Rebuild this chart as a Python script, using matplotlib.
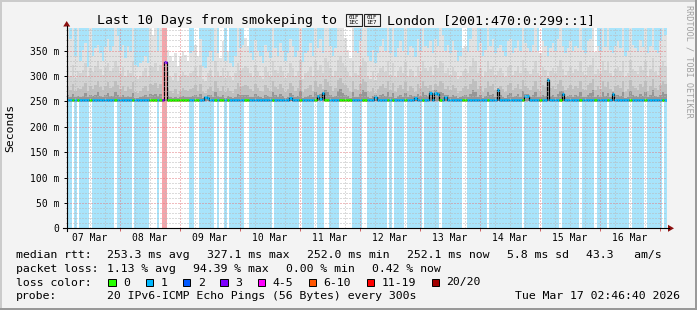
import matplotlib
matplotlib.use("Agg")
import matplotlib.pyplot as plt
from matplotlib.patches import Rectangle, Polygon
from matplotlib.lines import Line2D
import numpy as np
from datetime import datetime, timedelta

plt.rcParams["font.family"] = ["DejaVu Sans Mono"]

# ---- data (one value per hour, 10 rows = 10 days) ----
START = datetime(2026, 3, 7, 2, 46, 40)
N_DAYS = 10

# loss per hour: '0' none, '1' = 1/20 lost, 'r' = 11-19 lost
loss_rows = [
    "110101111011111111101111",
    "11011111100010rr00000000",
    "011001111110100101111110",
    "011111111101111111111011",
    "111011100111100000111100",
    "111111110101111011111101",
    "111110111111110011111111",
    "011111111111110111111011",
    "111110111111101111101111",
    "011111111011111011111101",
]

median_rows = [
    [253.4, 253.1, 253.0, 253.3, 253.2, 253.5, 253.1, 253.0, 253.2, 253.4, 253.1, 253.3, 253.6, 253.2, 253.0, 253.1, 253.4, 253.2, 253.3, 253.5, 253.2, 253.1, 253.3, 253.0],
    [253.2, 253.3, 253.1, 253.0, 253.4, 253.2, 253.1, 253.3, 253.5, 253.2, 253.0, 253.1, 253.3, 253.2, 253.4, 327.1, 253.2, 253.0, 253.1, 253.3, 253.2, 253.1, 253.0, 253.2],
    [253.1, 253.3, 253.2, 253.0, 253.1, 253.4, 253.2, 258.5, 257.0, 253.3, 253.1, 253.0, 253.2, 253.4, 253.1, 253.2, 253.0, 253.3, 253.1, 253.2, 253.4, 253.0, 253.1, 253.3],
    [253.2, 253.0, 253.1, 253.3, 253.2, 253.4, 253.1, 253.0, 253.2, 253.3, 253.1, 253.2, 253.0, 253.4, 253.2, 253.1, 253.3, 256.0, 253.2, 253.0, 253.1, 253.3, 253.2, 253.1],
    [253.3, 253.1, 253.2, 253.0, 260.0, 254.5, 266.5, 253.2, 253.1, 253.3, 253.0, 253.2, 253.4, 253.1, 253.0, 253.2, 253.3, 253.1, 253.2, 253.0, 253.4, 253.1, 253.2, 253.3],
    [253.1, 253.2, 253.0, 258.5, 253.3, 253.1, 253.2, 253.4, 253.0, 253.1, 253.3, 253.2, 253.1, 253.0, 253.2, 253.4, 253.1, 253.3, 253.2, 257.0, 253.1, 253.0, 253.2, 253.3],
    [253.2, 266.0, 253.4, 267.0, 264.0, 253.1, 253.3, 258.0, 253.2, 253.0, 253.1, 253.3, 253.2, 253.4, 253.1, 253.0, 253.2, 253.3, 253.1, 253.2, 253.0, 253.4, 253.2, 253.1],
    [253.3, 253.1, 253.0, 253.2, 272.0, 253.1, 253.3, 253.2, 253.0, 253.1, 253.4, 253.2, 253.1, 253.3, 253.0, 260.5, 260.0, 253.2, 253.1, 253.3, 253.0, 253.2, 253.1, 253.4],
    [291.6, 253.2, 253.1, 253.3, 253.0, 253.2, 265.0, 253.1, 253.3, 253.2, 253.0, 253.1, 253.4, 253.2, 253.1, 253.0, 253.3, 253.2, 253.1, 253.0, 253.2, 253.3, 253.1, 253.2],
    [253.0, 253.2, 264.0, 253.1, 253.3, 253.2, 253.0, 253.1, 253.4, 253.2, 253.1, 253.0, 253.3, 253.2, 253.1, 253.0, 253.2, 253.1, 253.3, 253.0, 253.2, 253.1, 252.4, 252.1],
]

# smoke: max ping per hour
top_rows = [
    [396, 372, 396, 340, 396, 330, 352, 365, 318, 396, 340, 355, 362, 345, 330, 358, 372, 350, 360, 396, 378, 350, 362, 335],
    [360, 348, 396, 322, 318, 325, 330, 340, 326, 396, 380, 396, 350, 396, 254, 254, 352, 340, 330, 345, 320, 338, 350, 342],
    [330, 345, 350, 362, 340, 372, 320, 315, 338, 350, 330, 396, 345, 335, 368, 330, 350, 326, 318, 340, 396, 356, 362, 375],
    [360, 345, 332, 370, 350, 340, 325, 362, 348, 335, 396, 355, 340, 365, 350, 330, 345, 372, 360, 338, 350, 396, 328, 345],
    [350, 365, 340, 396, 355, 372, 345, 396, 396, 360, 340, 355, 396, 396, 396, 375, 352, 335, 396, 350, 345, 368, 396, 396],
    [340, 330, 352, 326, 345, 360, 372, 350, 396, 345, 396, 338, 355, 368, 350, 396, 342, 360, 355, 338, 372, 350, 396, 360],
    [355, 368, 345, 372, 360, 396, 380, 350, 362, 345, 368, 352, 330, 340, 355, 360, 348, 372, 396, 396, 350, 365, 340, 352],
    [396, 360, 372, 345, 355, 362, 350, 340, 368, 372, 345, 356, 370, 350, 396, 365, 355, 348, 362, 396, 350, 345, 368, 360],
    [340, 355, 365, 350, 372, 396, 360, 345, 355, 368, 350, 360, 355, 396, 352, 345, 368, 372, 396, 348, 360, 350, 396, 358],
    [396, 352, 345, 360, 368, 355, 396, 340, 350, 396, 362, 356, 348, 370, 358, 396, 345, 360, 396, 352, 345, 368, 396, 380],
]

# smoke: upper quantile band
hi_rows = [
    [318, 300, 322, 296, 310, 305, 312, 325, 300, 316, 308, 320, 330, 314, 302, 318, 326, 310, 315, 330, 320, 305, 318, 300],
    [312, 305, 330, 298, 295, 300, 308, 315, 300, 320, 318, 325, 310, 322, 254, 254, 310, 298, 292, 305, 290, 300, 308, 302],
    [298, 305, 310, 318, 300, 322, 295, 290, 305, 312, 298, 330, 308, 300, 315, 296, 310, 298, 292, 305, 325, 312, 316, 320],
    [315, 305, 298, 322, 310, 300, 295, 318, 308, 300, 330, 312, 305, 320, 310, 296, 305, 325, 315, 300, 310, 332, 295, 305],
    [308, 318, 300, 330, 312, 322, 305, 335, 328, 315, 300, 310, 332, 340, 325, 318, 308, 298, 330, 305, 302, 320, 335, 328],
    [300, 295, 310, 292, 305, 315, 320, 308, 330, 302, 325, 298, 310, 318, 306, 328, 300, 314, 310, 298, 320, 308, 330, 315],
    [310, 318, 302, 322, 315, 330, 325, 306, 316, 302, 318, 308, 295, 300, 310, 314, 305, 320, 335, 330, 306, 316, 298, 308],
    [330, 314, 320, 302, 310, 316, 306, 298, 318, 322, 302, 310, 320, 306, 332, 316, 310, 304, 314, 330, 306, 300, 318, 312],
    [300, 310, 316, 306, 320, 332, 314, 302, 310, 318, 306, 314, 310, 330, 308, 302, 318, 322, 335, 304, 314, 306, 330, 312],
    [328, 306, 300, 314, 318, 310, 330, 298, 306, 332, 314, 310, 304, 320, 312, 330, 300, 314, 335, 308, 302, 318, 330, 320],
]

# smoke: middle band
mid_rows = [
    [280, 272, 284, 270, 276, 274, 278, 286, 270, 280, 275, 282, 290, 278, 272, 280, 288, 276, 279, 290, 282, 274, 280, 270],
    [278, 274, 288, 268, 266, 270, 276, 280, 270, 284, 282, 286, 276, 284, 254, 254, 276, 270, 266, 274, 264, 270, 276, 272],
    [270, 274, 276, 282, 270, 284, 268, 266, 274, 278, 270, 290, 276, 270, 280, 268, 276, 270, 266, 274, 286, 278, 280, 282],
    [280, 274, 270, 284, 276, 270, 268, 282, 276, 270, 290, 278, 274, 284, 276, 268, 274, 286, 280, 270, 276, 292, 268, 274],
    [276, 282, 270, 290, 278, 284, 274, 294, 288, 280, 270, 276, 292, 296, 286, 282, 276, 268, 290, 274, 272, 284, 294, 288],
    [270, 268, 276, 266, 274, 280, 284, 276, 290, 272, 286, 268, 276, 282, 274, 288, 270, 280, 276, 268, 284, 276, 290, 280],
    [276, 282, 272, 284, 280, 290, 286, 274, 280, 272, 282, 276, 266, 270, 276, 280, 274, 284, 294, 290, 274, 280, 268, 276],
    [290, 280, 284, 272, 276, 280, 274, 268, 282, 286, 272, 276, 284, 274, 292, 280, 276, 272, 280, 290, 274, 270, 282, 278],
    [270, 276, 280, 274, 284, 292, 280, 272, 276, 282, 274, 280, 276, 290, 274, 272, 282, 286, 294, 272, 280, 274, 290, 278],
    [288, 274, 270, 280, 282, 276, 290, 268, 274, 292, 280, 276, 272, 284, 278, 290, 270, 280, 294, 276, 272, 282, 290, 284],
]

# smoke: dense core just above the median
lo_rows = [
    [262, 258, 264, 258, 260, 259, 261, 266, 258, 262, 260, 263, 268, 261, 258, 262, 266, 260, 261, 268, 263, 259, 262, 258],
    [261, 259, 266, 257, 256, 258, 260, 262, 258, 264, 263, 265, 260, 264, 254, 254, 260, 258, 256, 259, 256, 258, 260, 259],
    [258, 259, 260, 263, 258, 264, 257, 256, 262, 262, 258, 268, 260, 258, 262, 257, 260, 258, 256, 259, 265, 262, 262, 263],
    [262, 259, 258, 264, 260, 258, 257, 263, 260, 258, 268, 262, 259, 264, 260, 257, 259, 266, 262, 258, 260, 270, 257, 259],
    [260, 263, 258, 268, 262, 264, 268, 272, 268, 262, 258, 260, 270, 274, 266, 263, 260, 257, 268, 259, 258, 264, 272, 268],
    [258, 257, 260, 262, 259, 262, 264, 260, 268, 258, 266, 257, 260, 263, 259, 266, 258, 262, 260, 261, 264, 260, 268, 262],
    [260, 270, 258, 272, 268, 268, 266, 262, 262, 258, 263, 260, 256, 258, 260, 262, 259, 264, 272, 268, 259, 262, 257, 260],
    [268, 262, 264, 258, 276, 262, 259, 257, 263, 266, 258, 260, 264, 259, 270, 264, 264, 258, 262, 268, 259, 258, 263, 261],
    [296, 260, 262, 259, 264, 270, 270, 258, 260, 263, 259, 262, 260, 268, 259, 258, 263, 266, 272, 258, 262, 259, 268, 261],
    [266, 259, 268, 262, 263, 260, 268, 257, 259, 270, 262, 260, 258, 264, 261, 268, 258, 262, 272, 260, 258, 263, 268, 264],
]

# title: the flag (regional indicators G, B) has no glyph in any installed font,
# so it is drawn as the two hex boxes seen in the reference
title_left = "Last 10 Days from smokeping to"
title_flag_codes = ["01F1EC", "01F1E7"]
title_right = "London [2001:470:0:299::1]"
rtt_stats = ["253.3 ms avg", "327.1 ms max", "252.0 ms min", "252.1 ms now", "5.8 ms sd", "43.3   am/s"]
loss_stats = ["1.13 % avg", "94.39 % max", "0.00 % min", "0.42 % now"]
loss_labels = ["0", "1", "2", "3", "4-5", "6-10", "11-19", "20/20"]
loss_swatch = ["#26ff00", "#00b8ff", "#0059ff", "#7e00ff", "#ff00ff", "#ff5500", "#ff0000", "#a10000"]
probe_text = "20 IPv6-ICMP Echo Pings (56 Bytes) every 300s"
stamp = "Tue Mar 17 02:46:40 2026"

# ---- build ----
loss = "".join(loss_rows)
median = np.concatenate(median_rows)
top = np.concatenate(top_rows)
hi = np.concatenate(hi_rows)
mid = np.concatenate(mid_rows)
lo = np.concatenate(lo_rows)
n = len(median)
hours = np.arange(n)

W, H = 697, 310
PL, PR, PT, PB = 66.7, 666.7, 28.3, 228.3
Y_TOP = 394.0


def fx(x):
    return x / W


def fy(y):
    return 1 - y / H


fig = plt.figure(figsize=(W / 100, H / 100), dpi=100, facecolor="#f3f3f3")
ax = fig.add_axes([fx(PL), fy(PB), (PR - PL) / W, (PB - PT) / H])
ax.set_facecolor("white")
ax.set_xlim(0, N_DAYS * 24)
ax.set_ylim(0, Y_TOP)

# loss background bars
bg_col = {"1": "#a8e4fb", "r": "#f6a4aa"}
for code, col in bg_col.items():
    m = np.array([c == code for c in loss])
    ax.bar(hours[m], Y_TOP, width=1.0, align="edge", color=col, linewidth=0,
           antialiased=False, zorder=1)

# smoke
base = 251.5
for vals, col in [(top, "#e2e2e2"), (hi, "#d3d3d3"), (mid, "#bfbfbf"), (lo, "#969696")]:
    ax.bar(hours, vals - base, bottom=base, width=1.0, align="edge", color=col,
           linewidth=0, antialiased=False, zorder=2)

# median line
med_col = {"0": "#26ff00", "1": "#00b8ff", "r": "#7e00ff"}
ax.step(np.r_[hours, n], np.r_[median, median[-1]], where="post", color="black",
        lw=0.9, zorder=4)
ax.hlines(median, hours, hours + 1, colors=[med_col[c] for c in loss], lw=2.0, zorder=5)

# grid
first6 = (datetime(2026, 3, 7, 6) - START).total_seconds() / 3600
dotted = (0, (1, 2))
h = first6
k = 0
while h < N_DAYS * 24:
    is_day = k % 4 == 3
    ax.axvline(h, color="#e27a7e" if is_day else "#b8b8b8", lw=0.72, ls=dotted, zorder=6)
    h += 6
    k += 1
for v in range(10, int(Y_TOP), 10):
    ax.axhline(v, color="#e27a7e" if v % 50 == 0 else "#b8b8b8", lw=0.72, ls=dotted, zorder=6)

# ticks
ax.set_yticks(range(0, 351, 50), ["0" if v == 0 else f"{v} m" for v in range(0, 351, 50)])
ax.set_yticks(range(10, int(Y_TOP), 10), minor=True)
ax.tick_params(axis="y", which="major", length=2, width=0.7, pad=3.4, labelsize=7)
ax.tick_params(axis="y", which="minor", length=1, width=0.6, color="#888888")
midnights = np.arange(first6 + 18, N_DAYS * 24, 24)
noons = np.arange(first6 + 6, N_DAYS * 24, 24)
ax.set_xticks(midnights, [""] * len(midnights))
ax.set_xticks(noons, [(START + timedelta(hours=float(t))).strftime("%d %b") for t in noons],
              minor=True)
ax.tick_params(axis="x", which="major", length=2, width=0.7, color="#d06060")
ax.tick_params(axis="x", which="minor", length=0, pad=3.6, labelsize=7)
for s in ax.spines.values():
    s.set_visible(False)

# axes lines with arrows
fig.add_artist(Line2D([fx(PL), fx(PL)], [fy(PB + 2.5), fy(PT - 2)], color="black", lw=0.8))
fig.add_artist(Line2D([fx(PL - 4), fx(669)], [fy(PB), fy(PB)], color="black", lw=0.8))
fig.add_artist(Polygon([[fx(PL - 3.5), fy(26.5)], [fx(PL + 3.5), fy(26.5)], [fx(PL), fy(21)]],
                       closed=True, transform=fig.transFigure, color="#8b1010", lw=0))
fig.add_artist(Polygon([[fx(668), fy(PB - 3.5)], [fx(668), fy(PB + 3.5)], [fx(674), fy(PB)]],
                       closed=True, transform=fig.transFigure, color="#8b1010", lw=0))

# title
TFS = 9.5
fig.text(fx(96.7), fy(24), title_left, ha="left", va="baseline", fontsize=TFS)
bx = 346.0
for code in title_flag_codes:
    fig.add_artist(Rectangle((fx(bx), fy(25.5)), 16 / W, 12 / H, transform=fig.transFigure,
                             facecolor="none", edgecolor="#222222", lw=0.8))
    fig.text(fx(bx + 8), fy(17.2), code[:3], ha="center", va="center", fontsize=4.2)
    fig.text(fx(bx + 8), fy(22.6), code[3:], ha="center", va="center", fontsize=4.2)
    bx += 18
fig.text(fx(bx + 5), fy(24), title_right, ha="left", va="baseline", fontsize=TFS)

fig.text(fx(10), fy(128), "Seconds", rotation=90, ha="center", va="center", fontsize=8.2)
fig.text(fx(689), fy(61), "RRDTOOL / TOBI OETIKER", rotation=270, ha="center", va="center",
         fontsize=6.1, color="#a0a0a0")

# legend block
FS = 8.25
CW = 6.9
rows_y = [258.3, 271.8, 285.5, 299.2]
fig.text(fx(16), fy(rows_y[0]), "median rtt:", fontsize=FS, va="baseline")
x = 107.3
for s in rtt_stats:
    fig.text(fx(x), fy(rows_y[0]), s, fontsize=FS, va="baseline")
    x += len(s) * CW + 17
fig.text(fx(16), fy(rows_y[1]), "packet loss:", fontsize=FS, va="baseline")
x = 107.3
for s in loss_stats:
    fig.text(fx(x), fy(rows_y[1]), s, fontsize=FS, va="baseline")
    x += len(s) * CW + 17
fig.text(fx(16), fy(rows_y[2]), "loss color:", fontsize=FS, va="baseline")
x = 108.3
for lab, col in zip(loss_labels, loss_swatch):
    fig.add_artist(Rectangle((fx(x), fy(286)), 7.5 / W, 7.5 / H, transform=fig.transFigure,
                             facecolor=col, edgecolor="black", lw=0.7))
    fig.text(fx(x + 15), fy(rows_y[2]), lab, fontsize=FS, va="baseline")
    x += 15 + len(lab) * CW + 15.4
fig.text(fx(16), fy(rows_y[3]), "probe:", fontsize=FS, va="baseline")
fig.text(fx(107.3), fy(rows_y[3]), probe_text, fontsize=FS, va="baseline")
fig.text(fx(680), fy(rows_y[3]), stamp, fontsize=FS, va="baseline", ha="right")

# frame
fig.add_artist(Rectangle((0, fy(2)), 1, 2 / H, transform=fig.transFigure, color="#cbcbcb", lw=0))
fig.add_artist(Rectangle((0, 0), 2 / W, 1, transform=fig.transFigure, color="#cbcbcb", lw=0))
fig.add_artist(Rectangle((0, 0), 1, 2 / H, transform=fig.transFigure, color="#999999", lw=0))
fig.add_artist(Rectangle((fx(695), 0), 2 / W, 1, transform=fig.transFigure, color="#999999", lw=0))

fig.savefig("out.png", dpi=100, facecolor=fig.get_facecolor())
